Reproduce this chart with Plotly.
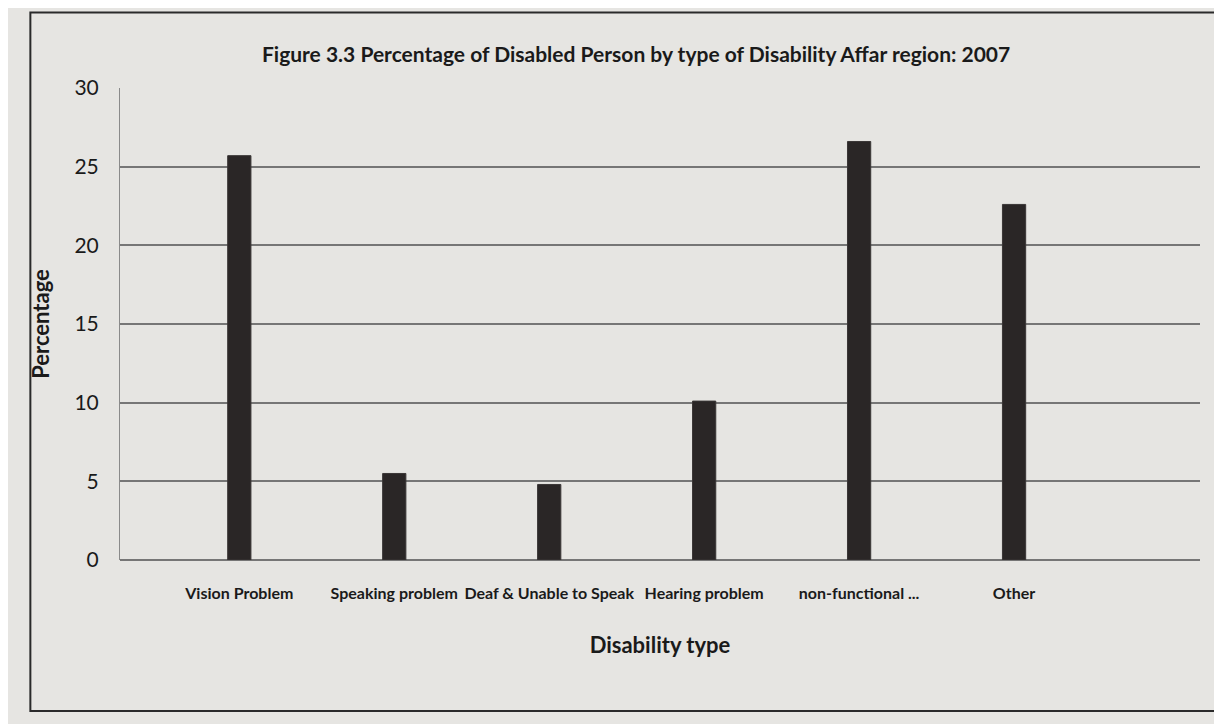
import plotly.graph_objects as go

categories = ["Vision Problem", "Speaking problem", "Deaf & Unable to Speak",
              "Hearing problem", "non-functional ...", "Other"]
percentages = [25.7, 5.5, 4.8, 10.1, 26.6, 22.6]
y_ticks = [0, 5, 10, 15, 20, 25, 30]

title_text = "Figure 3.3 Percentage of Disabled Person by type of Disability Affar region: 2007"
x_title = "Disability type"
y_title = "Percentage"

font_family = "Lato, Open Sans, sans-serif"

fig = go.Figure()
fig.add_trace(go.Bar(
    x=categories,
    y=percentages,
    width=0.15,
    marker=dict(color="#2a2626", line=dict(color="#3a3636", width=1)),
    showlegend=False,
))

fig.update_layout(
    width=1222,
    height=724,
    paper_bgcolor="#e6e5e2",
    plot_bgcolor="#e6e5e2",
    margin=dict(l=112, r=30, t=80, b=172, autoexpand=False),
    title=dict(
        text="<b>" + title_text + "</b>",
        x=0.514, xanchor="center", y=0.935, yanchor="middle",
        font=dict(family=font_family, size=21, color="#1a1a1a"),
    ),
    xaxis=dict(
        type="category",
        range=[-0.77, 6.2],
        automargin=False,
        showgrid=False,
        showline=False,
        ticks="",
        tickangle=0,
        ticklabelstandoff=22,
        tickfont=dict(family=font_family, size=16, color="#1a1a1a", weight="bold"),
        title=dict(text="<b>" + x_title + "</b>", font=dict(family=font_family, size=22, color="#1a1a1a"), standoff=36),
    ),
    yaxis=dict(
        range=[0, 30],
        automargin=False,
        tickvals=y_ticks,
        showgrid=True,
        gridcolor="#767676",
        gridwidth=2,
        zeroline=True,
        zerolinecolor="#767676",
        zerolinewidth=2,
        showline=True,
        linecolor="#8a8a8a",
        linewidth=1,
        ticks="",
        ticklabelstandoff=16,
        tickfont=dict(family=font_family, size=21, color="#1a1a1a"),
        title=dict(text="<b>" + y_title + "</b>", font=dict(family=font_family, size=22, color="#1a1a1a"), standoff=18),
    ),
    bargap=0.85,
)

fig.add_shape(type="rect", xref="paper", yref="paper",
              x0=-0.083, x1=1.03, y0=-0.32, y1=1.16,
              line=dict(color="#2a2a2a", width=2), fillcolor="rgba(0,0,0,0)", layer="below")

fig.write_html("out.html")
